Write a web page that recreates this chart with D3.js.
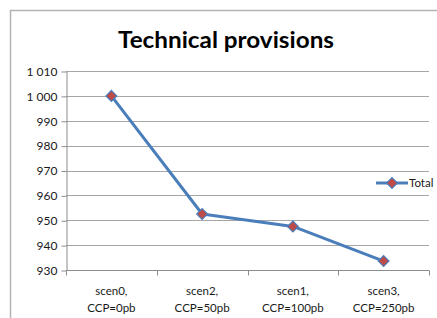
<!DOCTYPE html>
<html>
<head>
<meta charset="utf-8">
<script src="https://cdn.jsdelivr.net/npm/d3@7"></script>
<style>
body { margin:0; background:#fff; }
text { font-family: Lato, "Open Sans", sans-serif; }
</style>
</head>
<body>
<svg id="chart" width="437" height="318"></svg>
<script>
var categories = [["scen0,", "CCP=0pb"], ["scen2,", "CCP=50pb"], ["scen1,", "CCP=100pb"], ["scen3,", "CCP=250pb"]];
var totalValues = [1000, 952.5, 947.5, 933.6];
var yTicks = [930, 940, 950, 960, 970, 980, 990, 1000, 1010];
var seriesName = "Total";

var svg = d3.select("#chart");

// chart frame (cut off by the window on right and bottom)
svg.append("rect")
    .attr("x", 10.5).attr("y", 10.5)
    .attr("width", 460).attr("height", 340)
    .attr("fill", "#fff")
    .attr("stroke", "#b3b3b3")
    .attr("stroke-width", 1.5);

var plotLeft = 66, plotRight = 429, plotTop = 71, plotBottom = 270;

var x = d3.scaleBand()
    .domain(d3.range(categories.length))
    .range([plotLeft, plotRight]);

var y = d3.scaleLinear()
    .domain([930, 1010])
    .range([plotBottom, plotTop]);

var fmt = function(v) { return d3.format(",")(v).replace(",", " "); };

// gridlines
svg.append("g").selectAll("line")
    .data(yTicks.slice(1))
    .enter().append("line")
    .attr("x1", plotLeft).attr("x2", plotRight)
    .attr("y1", function(d) { return Math.round(y(d)) + 0.5; })
    .attr("y2", function(d) { return Math.round(y(d)) + 0.5; })
    .attr("stroke", "#a6a6a6")
    .attr("stroke-width", 1);

// y axis
var yAxis = svg.append("g")
    .attr("transform", "translate(" + (plotLeft + 0.5) + ",0.5)")
    .call(d3.axisLeft(y).tickValues(yTicks).tickSize(5).tickSizeOuter(0).tickFormat(fmt));
yAxis.select(".domain").attr("stroke", "#8c8c8c");
yAxis.selectAll(".tick line").attr("stroke", "#8c8c8c");
yAxis.selectAll(".tick text")
    .attr("x", -9)
    .attr("font-size", 12)
    .attr("fill", "#1a1a1a")
    .style("font-family", "Lato, sans-serif");

// x axis
var xAxis = svg.append("g")
    .attr("transform", "translate(0," + (plotBottom + 0.5) + ")");
xAxis.append("line")
    .attr("x1", plotLeft).attr("x2", plotRight)
    .attr("stroke", "#8c8c8c");
xAxis.selectAll(".tk")
    .data(d3.range(categories.length + 1))
    .enter().append("line")
    .attr("x1", function(d) { return Math.round(plotLeft + d * x.bandwidth()) + 0.5; })
    .attr("x2", function(d) { return Math.round(plotLeft + d * x.bandwidth()) + 0.5; })
    .attr("y1", 0).attr("y2", 5)
    .attr("stroke", "#8c8c8c");
var lbl = xAxis.selectAll(".lbl")
    .data(categories)
    .enter().append("text")
    .attr("text-anchor", "middle")
    .attr("font-size", 11.5)
    .attr("fill", "#1a1a1a");
lbl.append("tspan")
    .attr("x", function(d, i) { return x(i) + x.bandwidth() / 2; })
    .attr("y", 24)
    .text(function(d) { return d[0]; });
lbl.append("tspan")
    .attr("x", function(d, i) { return x(i) + x.bandwidth() / 2; })
    .attr("y", 41)
    .text(function(d) { return d[1]; });

// line
var line = d3.line()
    .x(function(d, i) { return x(i) + x.bandwidth() / 2; })
    .y(function(d) { return y(d); });

svg.append("path")
    .datum(totalValues)
    .attr("d", line)
    .attr("fill", "none")
    .attr("stroke", "#4a7ebb")
    .attr("stroke-width", 3)
    .attr("stroke-linejoin", "round");

var diamond = d3.symbol().type(d3.symbolDiamond2).size(75);

svg.append("g").selectAll("path")
    .data(totalValues)
    .enter().append("path")
    .attr("d", diamond)
    .attr("transform", function(d, i) { return "translate(" + (x(i) + x.bandwidth() / 2) + "," + y(d) + ")"; })
    .attr("fill", "#be4b48")
    .attr("stroke", "#4a7ebb")
    .attr("stroke-width", 1.2);

// legend
var lg = svg.append("g").attr("transform", "translate(376,183)");
lg.append("line")
    .attr("x1", 0).attr("x2", 32)
    .attr("stroke", "#4a7ebb").attr("stroke-width", 3);
lg.append("path")
    .attr("d", diamond)
    .attr("transform", "translate(16,0)")
    .attr("fill", "#be4b48")
    .attr("stroke", "#4a7ebb")
    .attr("stroke-width", 1.2);
lg.append("text")
    .attr("x", 33).attr("y", 4)
    .attr("font-size", 11.5)
    .attr("fill", "#1a1a1a")
    .text(seriesName);

// title
svg.append("text")
    .attr("x", 226).attr("y", 48)
    .attr("text-anchor", "middle")
    .attr("font-size", 22)
    .attr("font-weight", "bold")
    .attr("fill", "#000")
    .attr("textLength", 216)
    .attr("lengthAdjust", "spacingAndGlyphs")
    .text("Technical provisions");
</script>
</body>
</html>
